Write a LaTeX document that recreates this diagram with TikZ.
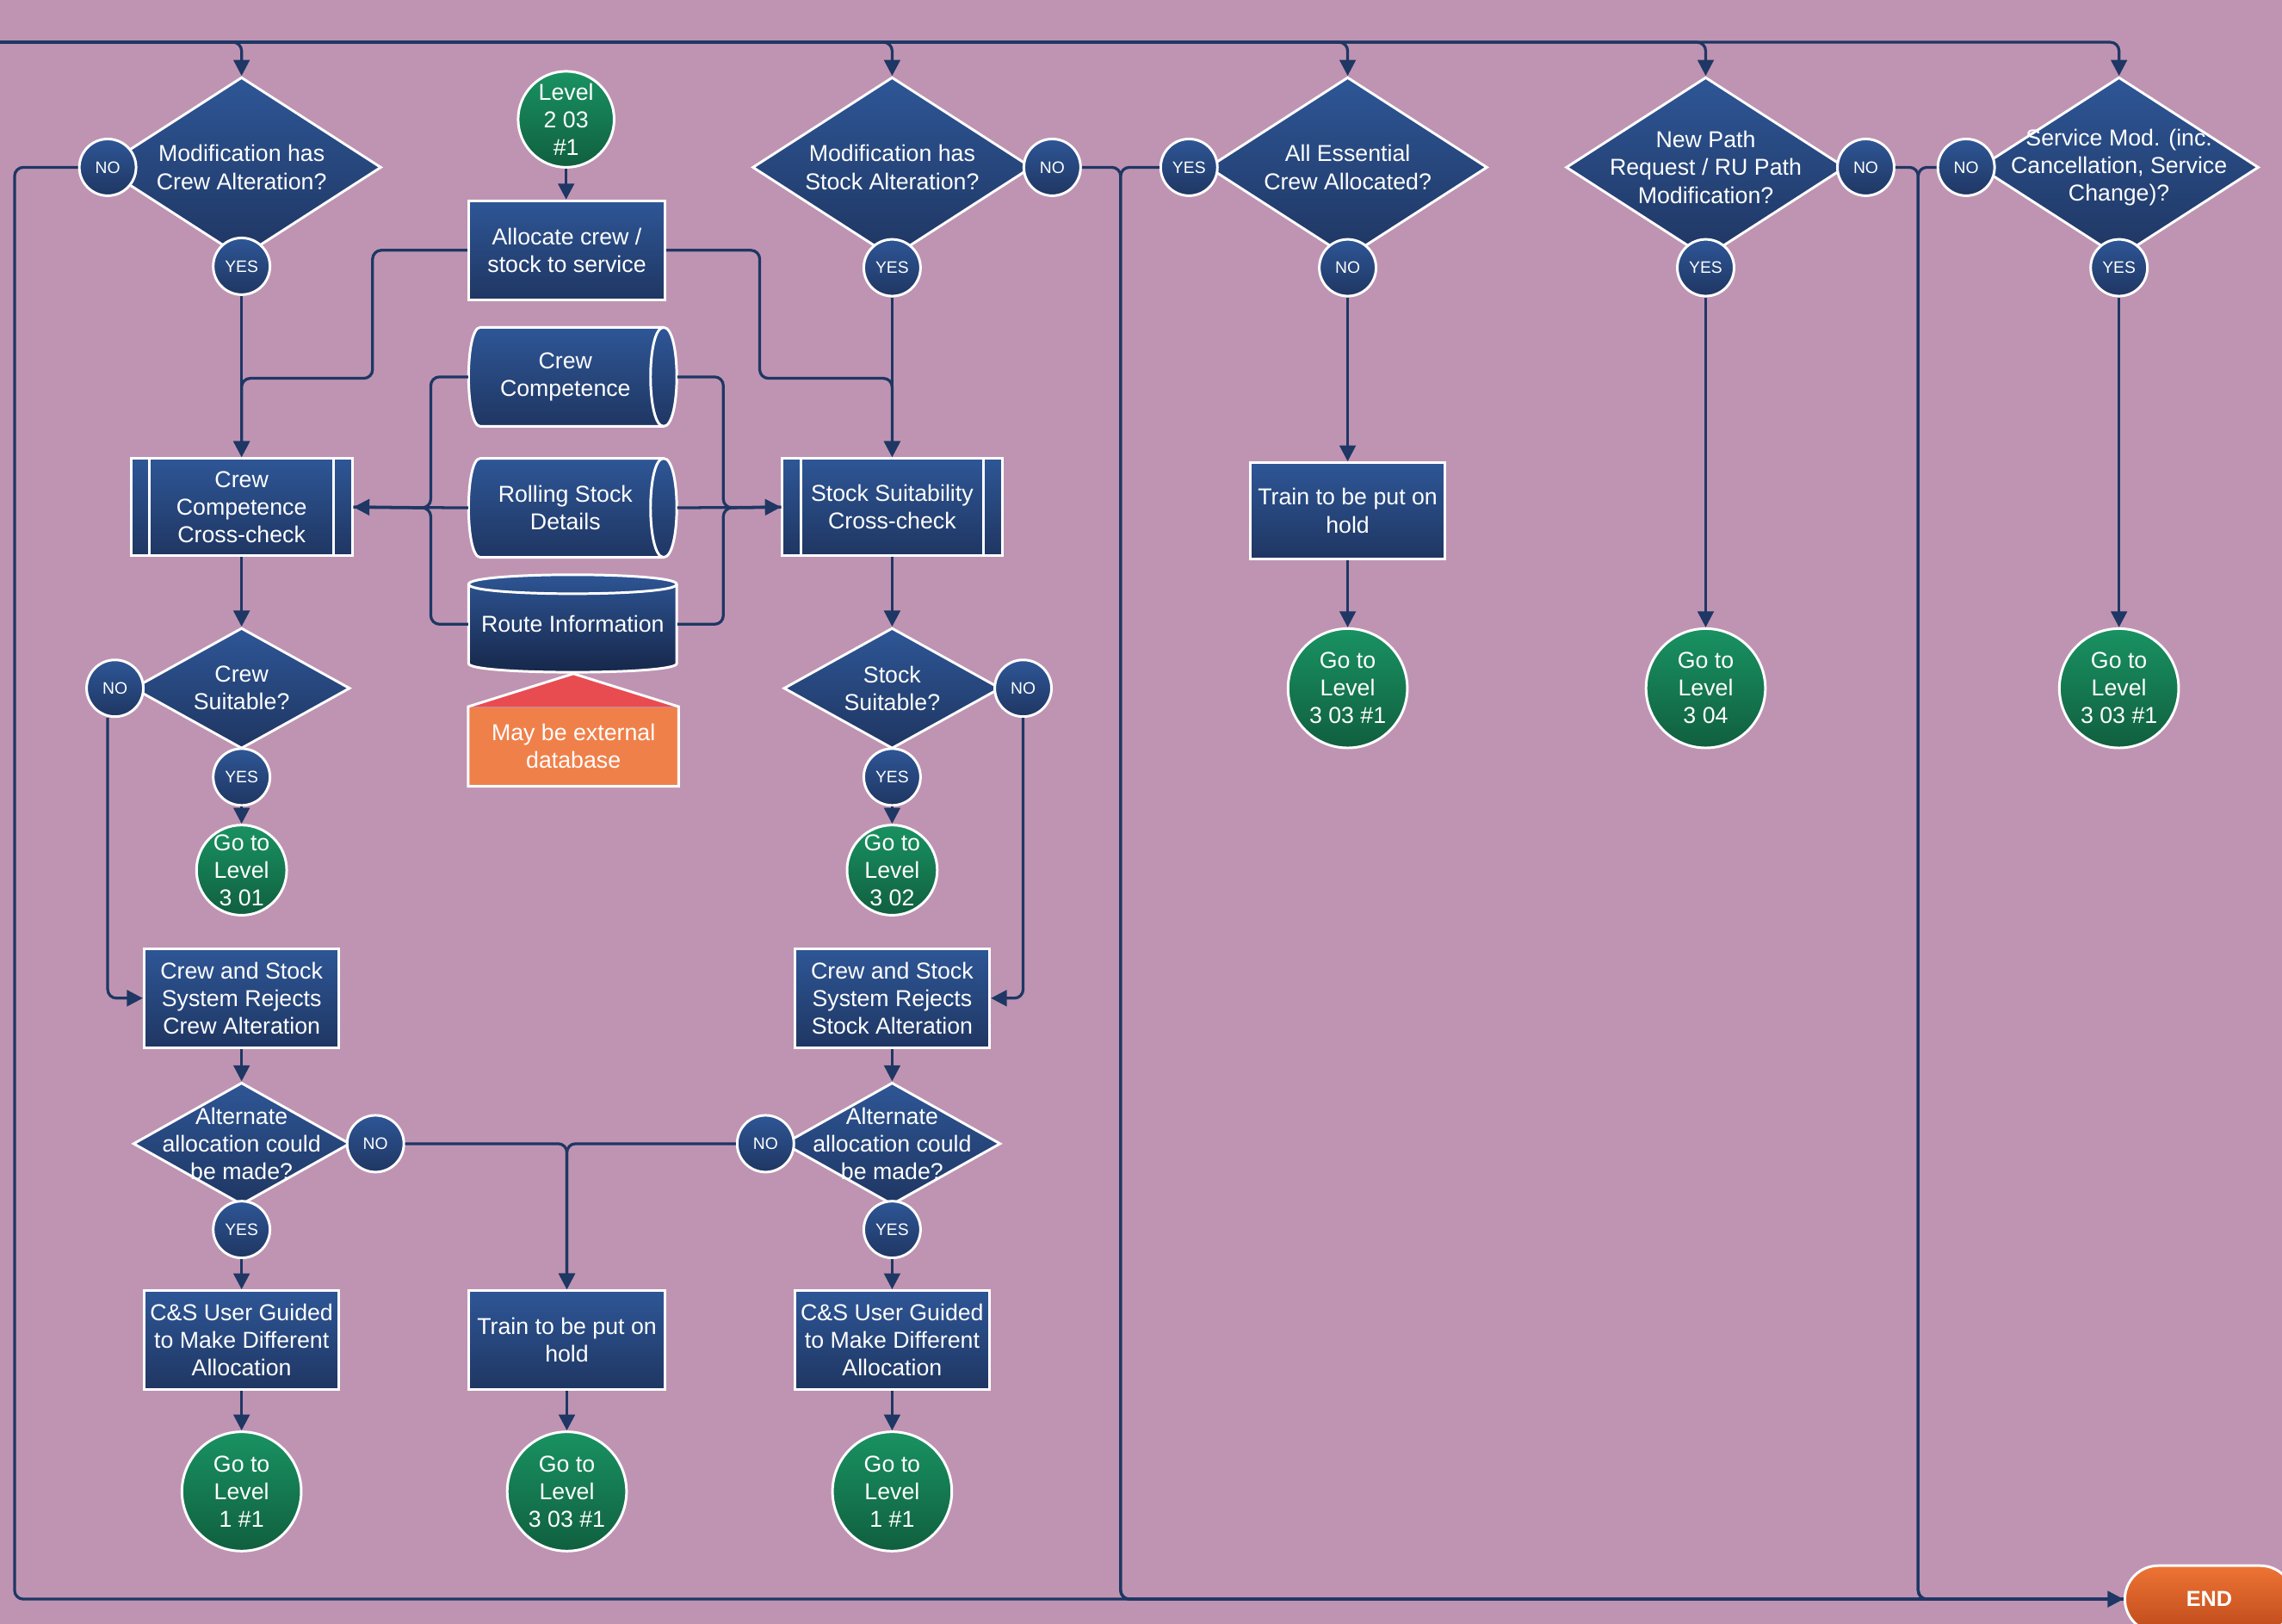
\documentclass[tikz,border=0pt]{standalone}
\usepackage{fontspec}
\setmainfont{Liberation Sans}
\usetikzlibrary{shapes.geometric,arrows.meta}
\definecolor{bg}{RGB}{191,148,178}
\definecolor{blueT}{RGB}{46,86,150}
\definecolor{blueB}{RGB}{31,54,98}
\definecolor{navyD}{RGB}{22,38,72}
\definecolor{greenT}{RGB}{25,146,98}
\definecolor{greenB}{RGB}{16,95,62}
\definecolor{linec}{RGB}{30,55,100}
\definecolor{noteO}{RGB}{240,128,74}
\definecolor{noteR}{RGB}{232,76,80}
\definecolor{endT}{RGB}{238,116,52}
\definecolor{endB}{RGB}{190,74,28}
\tikzset{
 txt/.style={text=white, align=center, font=\fontsize{9}{10.8}\selectfont},
 bbox/.style={rectangle, draw=white, line width=1pt, top color=blueT, bottom color=blueB, txt, inner sep=1pt, minimum width=2.68cm, minimum height=1.36cm},
 dec/.style={diamond, draw=white, line width=1pt, top color=blueT, bottom color=blueB, inner sep=0pt},
 bigdec/.style={dec, minimum width=3.84cm, minimum height=2.48cm},
 smalldec/.style={dec, minimum width=2.98cm, minimum height=1.68cm},
 yn/.style={circle, draw=white, line width=1pt, top color=blueT, bottom color=blueB, text=white, font=\fontsize{6.5}{7}\selectfont, inner sep=0pt, minimum size=0.78cm},
 gcirc/.style={circle, draw=white, line width=1pt, top color=greenT, bottom color=greenB, inner sep=0pt},
 anch/.style={rectangle, inner sep=0pt, minimum width=2.86cm},
 conn/.style={draw=linec, line width=1.1pt, rounded corners=0.12cm},
 arr/.style={conn, -{Triangle[length=0.22cm,width=0.22cm]}},
 dshape/.style={top color=blueT, bottom color=blueB, draw=white, line width=1pt},
}
\begin{document}
\begin{tikzpicture}[x=0.02cm,y=-0.02cm]
\useasboundingbox (0,0) rectangle (1568,1116);
\fill[bg] (0,0) rectangle (1568,1116);
\clip (0,0) rectangle (1568,1116);

% ---------- top row decisions ----------
\node[bigdec, label={[txt]center:Modification has\\Crew Alteration?}] (d1) at (166,115) {};
\node[bigdec, label={[txt]center:Modification has\\Stock Alteration?}] (d2) at (613,115) {};
\node[bigdec, label={[txt]center:All Essential\\Crew Allocated?}] (d3) at (926,115) {};
\node[bigdec, label={[txt]center:New Path\\Request / RU Path\\Modification?}] (d4) at (1172,115) {};
\node[bigdec, label={[txt]center:Service Mod. (inc.\\Cancellation, Service\\Change)?}] (d5) at (1456,115) {};

\node[yn] (n1) at (74,115) {NO};
\node[yn] (y1) at (166,183) {YES};
\node[yn] (y2) at (613,184) {YES};
\node[yn] (n2) at (723,115) {NO};
\node[yn] (y3) at (817,115) {YES};
\node[yn] (n3) at (926,184) {NO};
\node[yn] (y4) at (1172,184) {YES};
\node[yn] (n4) at (1282,115) {NO};
\node[yn] (n5) at (1351,115) {NO};
\node[yn] (y5) at (1456,184) {YES};

% ---------- middle column ----------
\node[gcirc, minimum size=1.32cm, label={[txt]center:Level\\2 03\\\#1}] (lvl) at (389,82) {};
\node[bbox, minimum width=2.7cm] (alloc) at (389.5,172) {Allocate crew /\\stock to service};

% Crew Competence (stored data)
\shade[dshape] (330,225) -- (456,225) .. controls (468,225) and (468,293) .. (456,293) -- (330,293) .. controls (319.3,293) and (319.3,225) .. (330,225) -- cycle;
\draw[white, line width=1pt] (456,225) .. controls (444,225) and (444,293) .. (456,293);
\node[anch, minimum height=1.36cm, label={[txt,xshift=-0.1cm]center:Crew\\Competence}] (cc) at (393.5,259) {};

% Rolling Stock Details (stored data)
\shade[dshape] (330,315) -- (456,315) .. controls (468,315) and (468,383) .. (456,383) -- (330,383) .. controls (319.3,383) and (319.3,315) .. (330,315) -- cycle;
\draw[white, line width=1pt] (456,315) .. controls (444,315) and (444,383) .. (456,383);
\node[anch, minimum height=1.36cm, label={[txt,xshift=-0.1cm]center:Rolling Stock\\Details}] (rsd) at (393.5,349) {};

% Route Information (database)
\shade[top color=blueT, bottom color=navyD, draw=white, line width=1pt] (322,401.5) .. controls (322,392.8) and (465,392.8) .. (465,401.5) -- (465,456) .. controls (465,464) and (322,464) .. (322,456) -- cycle;
\draw[white, line width=1pt] (322,401.5) .. controls (322,410.2) and (465,410.2) .. (465,401.5);
\node[anch, txt] (route) at (393.5,429) {Route Information};

% Callout
\node[rectangle, fill=noteO, inner sep=0pt, minimum width=2.88cm, minimum height=1.08cm, txt] (note) at (394,513) {May be external\\database};
\fill[noteR] (note.north west) -- (394,463) -- (note.north east) -- cycle;
\draw[white, line width=1pt] (note.north west) -- (394,463) -- (note.north east) -- (note.south east) -- (note.south west) -- cycle;

% ---------- crew column ----------
\node[bbox, minimum width=3.04cm, minimum height=1.34cm] (ccx) at (166,348.5) {Crew\\Competence\\Cross-check};
\draw[white, line width=1pt] ([xshift=0.27cm]ccx.north west) -- ([xshift=0.27cm]ccx.south west);
\draw[white, line width=1pt] ([xshift=-0.27cm]ccx.north east) -- ([xshift=-0.27cm]ccx.south east);
\node[smalldec, minimum width=2.98cm, minimum height=1.66cm, label={[txt]center:Crew\\Suitable?}] (cs1) at (166,473) {};
\node[yn] (n6) at (79,473) {NO};
\node[yn] (y6) at (166,534) {YES};
\node[gcirc, minimum size=1.24cm, label={[txt]center:Go to\\Level\\3 01}] (g301) at (166,598) {};
\node[bbox] (rej1) at (166,686) {Crew and Stock\\System Rejects\\Crew Alteration};
\node[smalldec, label={[txt]center:Alternate\\allocation could\\be made?}] (alt1) at (166,786) {};
\node[yn] (n8) at (258,786) {NO};
\node[yn] (y8) at (166,845) {YES};
\node[bbox] (csu1) at (166,921) {C\&S User Guided\\to Make Different\\Allocation};
\node[gcirc, minimum size=1.64cm, label={[txt]center:Go to\\Level\\1 \#1}] (g11a) at (166,1025) {};

\node[bbox, minimum width=2.7cm] (hold1) at (389.5,921) {Train to be put on\\hold};
\node[gcirc, minimum size=1.64cm, label={[txt]center:Go to\\Level\\3 03 \#1}] (g303a) at (389.5,1025) {};

% ---------- stock column ----------
\node[bbox, minimum width=3.02cm, minimum height=1.34cm] (scx) at (613,348.5) {Stock Suitability\\Cross-check};
\draw[white, line width=1pt] ([xshift=0.27cm]scx.north west) -- ([xshift=0.27cm]scx.south west);
\draw[white, line width=1pt] ([xshift=-0.27cm]scx.north east) -- ([xshift=-0.27cm]scx.south east);
\node[smalldec, minimum width=2.98cm, minimum height=1.66cm, label={[txt]center:Stock\\Suitable?}] (ss1) at (613,473) {};
\node[yn] (n7) at (703,473) {NO};
\node[yn] (y7) at (613,534) {YES};
\node[gcirc, minimum size=1.24cm, label={[txt]center:Go to\\Level\\3 02}] (g302) at (613,598) {};
\node[bbox] (rej2) at (613,686) {Crew and Stock\\System Rejects\\Stock Alteration};
\node[smalldec, label={[txt]center:Alternate\\allocation could\\be made?}] (alt2) at (613,786) {};
\node[yn] (n9) at (526,786) {NO};
\node[yn] (y9) at (613,845) {YES};
\node[bbox] (csu2) at (613,921) {C\&S User Guided\\to Make Different\\Allocation};
\node[gcirc, minimum size=1.64cm, label={[txt]center:Go to\\Level\\1 \#1}] (g11b) at (613,1025) {};

% ---------- right columns ----------
\node[bbox, minimum height=1.32cm] (hold2) at (926,351) {Train to be put on\\hold};
\node[gcirc, minimum size=1.64cm, label={[txt]center:Go to\\Level\\3 03 \#1}] (g303b) at (926,473) {};
\node[gcirc, minimum size=1.64cm, label={[txt]center:Go to\\Level\\3 04}] (g304) at (1172,473) {};
\node[gcirc, minimum size=1.64cm, label={[txt]center:Go to\\Level\\3 03 \#1}] (g303c) at (1456,473) {};

\node[rectangle, rounded corners=0.46cm, draw=white, line width=1pt, top color=endT, bottom color=endB, minimum width=2.32cm, minimum height=0.92cm, text=white, font=\bfseries\fontsize{8.5}{10}\selectfont] (endn) at (1518,1099) {END};

% ---------- connectors ----------
\coordinate (tl) at (0,29);
\foreach \d in {d1,d2,d3,d4,d5} {\draw[arr] (tl) -| (\d.north);}

\draw[arr] (n1.west) -- (10,115) -- (10,1099) -- (endn.west);
\draw[conn] (n2.east) -- (770,115) -- (770,1099) -- (endn.west);
\draw[conn] (y3.west) -- (770,115) -- (770,1099) -- (endn.west);
\draw[conn] (n4.east) -- (1318,115) -- (1318,1099) -- (endn.west);
\draw[conn] (n5.west) -- (1318,115) -- (1318,1099) -- (endn.west);

\draw[arr] (lvl.south) -- (alloc.north -| lvl.south);
\draw[arr] (y1.south) -- (ccx.north);
\draw[arr] (alloc.west) -- (256,172) -- (256,260) -- (166,260) -- (ccx.north);
\draw[arr] (y2.south) -- (scx.north);
\draw[arr] (alloc.east) -- (522,172) -- (522,260) -- (613,260) -- (scx.north);

\draw[conn] (cc.west) -- (296,259) -- (296,349) -- (ccx.east);
\draw[conn] (route.west) -- (296,429) -- (296,349) -- (ccx.east);
\draw[arr] (rsd.west) -- (ccx.east);
\draw[conn] (cc.east) -- (497,259) -- (497,349) -- (scx.west);
\draw[conn] (route.east) -- (497,429) -- (497,349) -- (scx.west);
\draw[arr] (rsd.east) -- (scx.west);

\draw[arr] (ccx.south) -- (cs1.north);
\draw[arr] (y6.south) -- (g301.north);
\draw[arr] ([xshift=-0.1cm]n6.south) |- (rej1.west);
\draw[arr] (rej1.south) -- (alt1.north);
\draw[arr] (y8.south) -- (csu1.north);
\draw[arr] (csu1.south) -- (g11a.north);

\draw[arr] (n8.east) -| (hold1.north);
\draw[arr] (n9.west) -| (hold1.north);
\draw[arr] (hold1.south) -- (g303a.north);

\draw[arr] (scx.south) -- (ss1.north);
\draw[arr] (y7.south) -- (g302.north);
\draw[arr] (n7.south) |- (rej2.east);
\draw[arr] (rej2.south) -- (alt2.north);
\draw[arr] (y9.south) -- (csu2.north);
\draw[arr] (csu2.south) -- (g11b.north);

\draw[arr] (n3.south) -- (hold2.north);
\draw[arr] (hold2.south) -- (g303b.north);
\draw[arr] (y4.south) -- (g304.north);
\draw[arr] (y5.south) -- (g303c.north);
\end{tikzpicture}
\end{document}
